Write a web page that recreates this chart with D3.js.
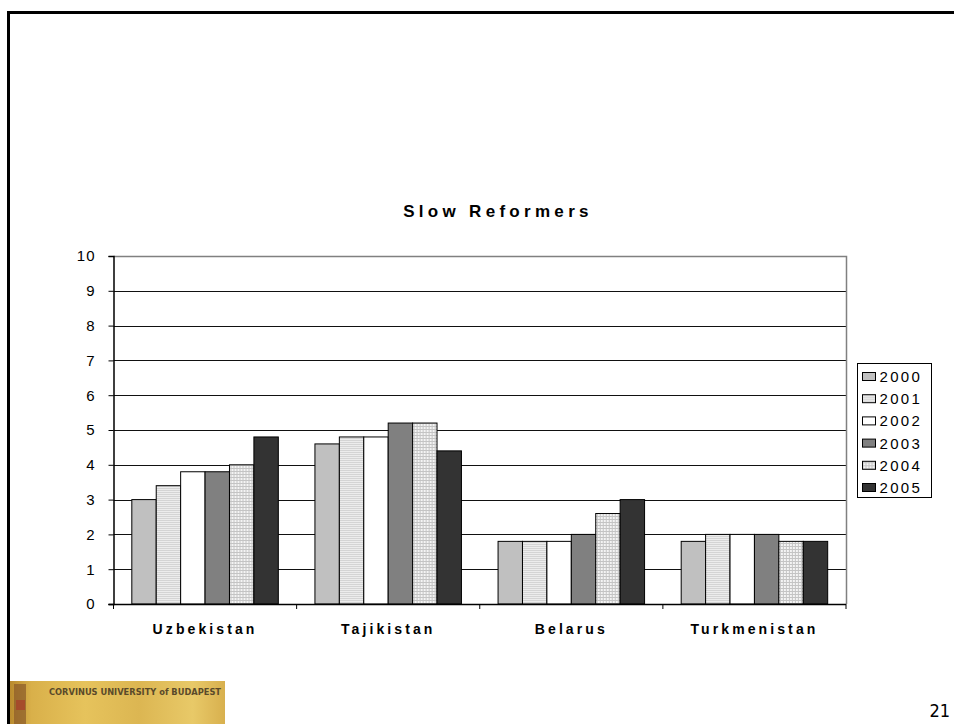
<!DOCTYPE html>
<html>
<head>
<meta charset="utf-8">
<script src="https://cdn.jsdelivr.net/npm/d3@7"></script>
<style>
  html, body { margin: 0; padding: 0; background: #fff; }
  svg { display: block; }
</style>
</head>
<body>
<svg id="chart" width="954" height="724"></svg>
<script>
// Chart data
const categories = ["Uzbekistan", "Tajikistan", "Belarus", "Turkmenistan"];
const years = ["2000", "2001", "2002", "2003", "2004", "2005"];
const v2000 = [3.0, 4.6, 1.8, 1.8];
const v2001 = [3.4, 4.8, 1.8, 2.0];
const v2002 = [3.8, 4.8, 1.8, 2.0];
const v2003 = [3.8, 5.2, 2.0, 2.0];
const v2004 = [4.0, 5.2, 2.6, 1.8];
const v2005 = [4.8, 4.4, 3.0, 1.8];
const seriesValues = [v2000, v2001, v2002, v2003, v2004, v2005];
const yTicks = [0, 1, 2, 3, 4, 5, 6, 7, 8, 9, 10];
const title = "Slow Reformers";

const FONT = "Arial, 'Liberation Sans', sans-serif";
const svg = d3.select("#chart");
const defs = svg.append("defs");

// Fill patterns for the hatched series
const pStripe = defs.append("pattern").attr("id", "stripe")
  .attr("patternUnits", "userSpaceOnUse").attr("width", 4).attr("height", 2);
pStripe.append("rect").attr("width", 4).attr("height", 2).attr("fill", "#ececec");
pStripe.append("rect").attr("width", 4).attr("height", 1).attr("fill", "#d4d4d4");

const pGrid = defs.append("pattern").attr("id", "gridfill")
  .attr("patternUnits", "userSpaceOnUse").attr("width", 3).attr("height", 3);
pGrid.append("rect").attr("width", 3).attr("height", 3).attr("fill", "#f4f4f4");
pGrid.append("rect").attr("width", 3).attr("height", 1).attr("fill", "#c4c4c4");
pGrid.append("rect").attr("width", 1).attr("height", 3).attr("fill", "#c4c4c4");

const fills = ["#c0c0c0", "url(#stripe)", "#ffffff", "#808080", "url(#gridfill)", "#333333"];

// Slide frame
svg.append("line").attr("x1", 8).attr("x2", 954).attr("y1", 12.5).attr("y2", 12.5)
  .attr("stroke", "#000").attr("stroke-width", 3);
svg.append("line").attr("x1", 8.5).attr("x2", 8.5).attr("y1", 11).attr("y2", 724)
  .attr("stroke", "#000").attr("stroke-width", 3);

// Plot geometry
const plot = { left: 113.5, right: 846, top: 256, bottom: 604 };

const x0 = d3.scaleBand().domain(categories).range([plot.left, plot.right]).padding(0);
const x1 = d3.scaleBand().domain(years).range([0, x0.bandwidth()])
  .paddingInner(0).paddingOuter(0.75);
const y = d3.scaleLinear().domain([0, 10]).range([plot.bottom, plot.top]);

// Gridlines
svg.append("g").selectAll("line").data(yTicks.filter(d => d > 0 && d < 10)).join("line")
  .attr("x1", plot.left).attr("x2", plot.right)
  .attr("y1", d => Math.round(y(d)) + 0.5).attr("y2", d => Math.round(y(d)) + 0.5)
  .attr("stroke", "#111").attr("stroke-width", 1);

// Plot area top/right border
svg.append("path")
  .attr("d", `M${plot.left},${Math.round(y(10)) + 0.5}H${plot.right + 0.5}V${plot.bottom}`)
  .attr("fill", "none").attr("stroke", "#808080").attr("stroke-width", 1.5);

// Bars
const groups = svg.append("g").selectAll("g").data(categories).join("g")
  .attr("transform", d => `translate(${x0(d)},0)`);
groups.selectAll("rect")
  .data((c, ci) => years.map((yr, si) => ({ yr, si, v: seriesValues[si][ci] })))
  .join("rect")
  .attr("x", d => x1(d.yr))
  .attr("y", d => y(d.v))
  .attr("width", x1.bandwidth())
  .attr("height", d => y(0) - y(d.v))
  .attr("fill", d => fills[d.si])
  .attr("stroke", "#000").attr("stroke-width", 1);

// Y axis
const yAxis = svg.append("g").attr("transform", `translate(${plot.left},0)`)
  .call(d3.axisLeft(y).tickValues(yTicks).tickSize(5).tickPadding(13).tickFormat(d3.format("d")));
yAxis.select(".domain").attr("stroke", "#000").attr("stroke-width", 1.5);
yAxis.selectAll(".tick line").attr("stroke", "#000");
yAxis.selectAll(".tick text")
  .attr("font-family", FONT)
  .attr("font-size", 15).attr("fill", "#000").attr("letter-spacing", "1px");

// X axis: baseline, boundary ticks and category names
const boundaries = categories.map(c => x0(c)).concat([plot.right]);
svg.append("line").attr("x1", plot.left - 5).attr("x2", plot.right)
  .attr("y1", y(0) + 0.5).attr("y2", y(0) + 0.5)
  .attr("stroke", "#000").attr("stroke-width", 1.5);
svg.append("g").selectAll("line").data(boundaries).join("line")
  .attr("x1", d => d).attr("x2", d => d)
  .attr("y1", y(0)).attr("y2", y(0) + 5)
  .attr("stroke", "#000").attr("stroke-width", 1);
svg.append("g").selectAll("text").data(categories).join("text")
  .attr("x", d => x0(d) + x0.bandwidth() / 2)
  .attr("y", 634)
  .attr("text-anchor", "middle")
  .attr("font-family", FONT)
  .attr("font-size", 14).attr("font-weight", "bold")
  .attr("letter-spacing", "3.1px")
  .text(d => d);

// Title
svg.append("text").attr("x", 498).attr("y", 217).attr("text-anchor", "middle")
  .attr("font-family", FONT)
  .attr("font-size", 17).attr("font-weight", "bold").attr("letter-spacing", "4.3px")
  .text(title);

// Legend
const legend = svg.append("g").attr("transform", "translate(857.5,363.5)");
legend.append("rect").attr("width", 74).attr("height", 134)
  .attr("fill", "#fff").attr("stroke", "#000").attr("stroke-width", 1);
const items = legend.selectAll("g").data(years).join("g")
  .attr("transform", (d, i) => `translate(5,${13 + i * 22.2})`);
items.append("rect").attr("x", 0).attr("y", -4).attr("width", 13).attr("height", 8)
  .attr("fill", (d, i) => fills[i]).attr("stroke", "#000").attr("stroke-width", 1);
items.append("text").attr("x", 17).attr("y", 5.5)
  .attr("font-family", FONT)
  .attr("font-size", 15).attr("letter-spacing", "2.3px")
  .text(d => d);

// University banner at bottom left
const lg = defs.append("linearGradient").attr("id", "banner");
[["0%", "#b98a2e"], ["10%", "#d9b04a"], ["35%", "#e6c35c"], ["60%", "#dcb652"], ["85%", "#e8c968"], ["100%", "#d8b04e"]]
  .forEach(([o, c]) => lg.append("stop").attr("offset", o).attr("stop-color", c));
const banner = svg.append("g");
banner.append("rect").attr("x", 10).attr("y", 681).attr("width", 215).attr("height", 43)
  .attr("fill", "url(#banner)");
banner.append("rect").attr("x", 14).attr("y", 684).attr("width", 12).attr("height", 40)
  .attr("fill", "#8a5a2a").attr("opacity", 0.7);
banner.append("rect").attr("x", 16).attr("y", 700).attr("width", 9).attr("height", 10)
  .attr("fill", "#a8432a").attr("opacity", 0.8);
banner.append("text").attr("x", 49).attr("y", 695)
  .attr("font-family", "'DejaVu Sans Condensed', 'Liberation Sans Narrow', Arial, sans-serif")
  .attr("font-stretch", "condensed")
  .attr("font-size", 9).attr("font-weight", "bold").attr("fill", "#5a4a2a")
  .attr("textLength", 172).attr("lengthAdjust", "spacingAndGlyphs")
  .text("CORVINUS UNIVERSITY of BUDAPEST");

// Slide number
svg.append("text").attr("x", 950).attr("y", 717).attr("text-anchor", "end")
  .attr("font-family", "'DejaVu Sans Condensed', 'Liberation Sans Narrow', Arial, sans-serif")
  .attr("font-stretch", "condensed")
  .attr("font-size", 18).attr("fill", "#000")
  .text("21");
</script>
</body>
</html>
